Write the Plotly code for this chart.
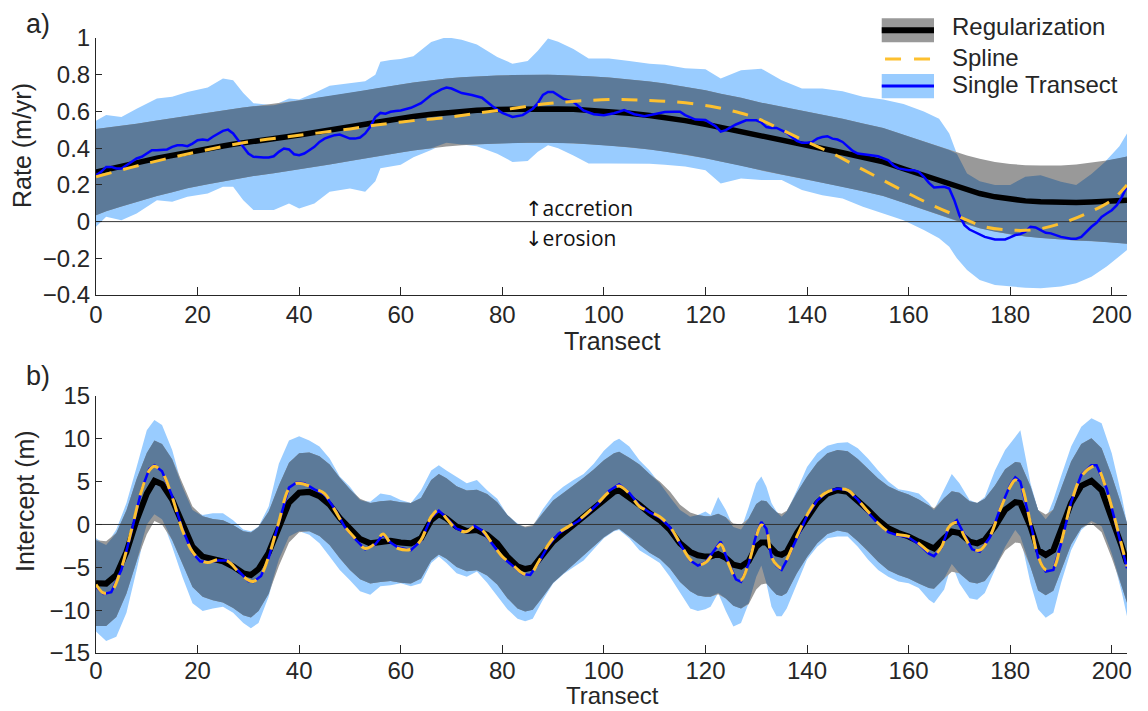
import numpy as np
import plotly.graph_objects as go

# ---------------- Panel a) : Rate ----------------
xt = [0, 2, 5, 8, 12, 15, 18, 22, 25, 27,
      29, 31, 35, 38, 40, 43, 46, 50, 53, 55,
      56, 58, 60, 62.5, 66, 69, 72, 75, 79, 82,
      85, 87, 89, 91, 94, 97, 101, 105, 109, 112,
      116, 120, 123, 127, 131, 135, 139, 143, 147, 151,
      155, 159, 163, 166, 168, 169.5, 171.5, 174, 177, 180,
      183, 186, 190, 193, 196, 199, 201.5, 203]
single_upper_top = [0.55, 0.58, 0.57, 0.615, 0.67, 0.68, 0.706, 0.73, 0.78, 0.77,
                    0.70, 0.645, 0.634, 0.67, 0.665, 0.70, 0.74, 0.755, 0.765, 0.80,
                    0.87, 0.88, 0.885, 0.9, 0.978, 1.005, 0.99, 0.965, 0.897, 0.86,
                    0.875, 0.93, 0.997, 0.98, 0.94, 0.888, 0.888, 0.875, 0.86, 0.855,
                    0.835, 0.83, 0.779, 0.824, 0.833, 0.77, 0.725, 0.725, 0.71, 0.68,
                    0.665, 0.64, 0.6, 0.56, 0.48, 0.37, 0.262, 0.22, 0.2, 0.2,
                    0.244, 0.253, 0.217, 0.2, 0.26, 0.335, 0.41, 0.48]
single_lower_top = [-0.028, 0.026, 0.008, 0.044, 0.117, 0.108, 0.135, 0.153, 0.19, 0.19,
                    0.117, 0.063, 0.063, 0.099, 0.072, 0.099, 0.162, 0.18, 0.162, 0.22,
                    0.29, 0.30, 0.31, 0.35, 0.39, 0.43, 0.42, 0.41, 0.37, 0.325,
                    0.33, 0.38, 0.416, 0.40, 0.36, 0.317, 0.317, 0.317, 0.315, 0.31,
                    0.30, 0.28, 0.208, 0.235, 0.226, 0.226, 0.172, 0.144, 0.126, 0.081,
                    0.044, 0.008, -0.046, -0.091, -0.137, -0.2, -0.264, -0.318, -0.345, -0.354,
                    -0.36, -0.363, -0.354, -0.336, -0.3, -0.245, -0.19, -0.155]
reg_top = [0.27, 0.284, 0.302, 0.32, 0.345, 0.362, 0.38, 0.398, 0.412, 0.421,
           0.43, 0.438, 0.453, 0.464, 0.472, 0.484, 0.497, 0.515, 0.53, 0.54,
           0.545, 0.553, 0.562, 0.572, 0.585, 0.594, 0.601, 0.606, 0.611, 0.613,
           0.615, 0.615, 0.615, 0.614, 0.612, 0.607, 0.6, 0.59, 0.578, 0.567,
           0.55, 0.53, 0.512, 0.49, 0.463, 0.442, 0.42, 0.398, 0.375, 0.35,
           0.325, 0.288, 0.25, 0.222, 0.203, 0.19, 0.172, 0.153, 0.135, 0.122,
           0.113, 0.108, 0.104, 0.104, 0.107, 0.111, 0.114, 0.117]
reg_ci_top = [0.235, 0.228, 0.22, 0.213, 0.206, 0.202, 0.198, 0.195, 0.193, 0.192,
              0.191, 0.19, 0.189, 0.188, 0.187, 0.187, 0.186, 0.185, 0.185, 0.185,
              0.185, 0.185, 0.185, 0.185, 0.185, 0.185, 0.185, 0.185, 0.185, 0.185,
              0.185, 0.185, 0.185, 0.185, 0.185, 0.185, 0.185, 0.185, 0.185, 0.185,
              0.185, 0.185, 0.185, 0.185, 0.185, 0.185, 0.185, 0.185, 0.185, 0.185,
              0.185, 0.185, 0.186, 0.186, 0.187, 0.187, 0.188, 0.189, 0.19, 0.192,
              0.194, 0.197, 0.202, 0.207, 0.213, 0.222, 0.23, 0.237]

spline_x_top = [0, 10, 20, 30, 40, 50, 56, 62.5, 69, 75, 82, 89, 95, 102, 108, 114, 121,
                126, 130, 135, 140, 145, 150, 155, 160, 165, 170, 175, 180, 185, 190, 195,
                200, 203]
spline_top = [0.244, 0.317, 0.38, 0.434, 0.47, 0.505, 0.529, 0.55, 0.567, 0.59, 0.616,
              0.643, 0.657, 0.665, 0.661, 0.652, 0.628, 0.598, 0.565, 0.5, 0.434, 0.371,
              0.298, 0.225, 0.153, 0.085, 0.026, -0.028, -0.046, -0.043, -0.01, 0.044,
              0.117, 0.199]

single_x_top = [0, 1, 2, 3, 4, 5, 6, 7, 8, 9,
                10, 11, 12, 13, 14, 15, 16, 17, 18, 19,
                20, 21, 22, 23, 24, 25, 26, 27, 28, 29,
                30, 31, 32, 33, 34, 35, 36, 37, 38, 39,
                40, 41, 42, 43, 44, 45, 46, 47, 48, 49,
                50, 51, 52, 53, 54, 55, 56, 57, 58, 59,
                60, 62, 64, 66, 68, 69, 70, 72, 74, 76,
                78, 80, 82, 84, 86, 87, 88, 89, 90, 92,
                94, 96, 98, 100, 102, 104, 106, 108, 110, 112,
                114, 115, 116, 118, 120, 122, 123, 124, 126, 128,
                130, 131, 132, 133, 134, 135, 136, 137, 138, 139,
                140, 141, 142, 143, 144, 145, 146, 147, 148, 149,
                150, 152, 154, 156, 157, 158, 160, 161, 162, 163,
                164, 165, 166, 167, 168, 169, 170, 171, 172, 173,
                175, 177, 179, 180, 181, 182, 183, 184, 185, 186,
                187, 188, 190, 192, 193, 194, 195, 196, 197, 198,
                199, 200, 201, 202, 203]
single_top = [0.253, 0.271, 0.298, 0.298, 0.289, 0.289, 0.307, 0.326, 0.344, 0.353,
              0.371, 0.389, 0.389, 0.393, 0.393, 0.407, 0.416, 0.416, 0.411, 0.425,
              0.443, 0.447, 0.443, 0.462, 0.48, 0.494, 0.501, 0.48, 0.443, 0.407,
              0.371, 0.353, 0.349, 0.349, 0.349, 0.356, 0.38, 0.398, 0.393, 0.367,
              0.362, 0.371, 0.389, 0.407, 0.434, 0.452, 0.462, 0.471, 0.474, 0.465,
              0.452, 0.452, 0.458, 0.48, 0.516, 0.57, 0.592, 0.588, 0.598, 0.603,
              0.605, 0.62, 0.645, 0.69, 0.72, 0.73, 0.725, 0.70, 0.69, 0.675,
              0.63, 0.592, 0.57, 0.58, 0.615, 0.645, 0.69, 0.706, 0.706, 0.67,
              0.652, 0.605, 0.585, 0.58, 0.59, 0.607, 0.585, 0.574, 0.585, 0.597,
              0.598, 0.598, 0.58, 0.556, 0.553, 0.52, 0.49, 0.498, 0.529, 0.552,
              0.552, 0.54, 0.515, 0.51, 0.51, 0.498, 0.484, 0.461, 0.44, 0.429,
              0.429, 0.434, 0.452, 0.461, 0.465, 0.452, 0.447, 0.434, 0.407, 0.385,
              0.371, 0.362, 0.356, 0.334, 0.307, 0.29, 0.28, 0.28, 0.271, 0.244,
              0.211, 0.186, 0.186, 0.19, 0.18, 0.117, 0.035, -0.019, -0.043, -0.055,
              -0.083, -0.097, -0.097, -0.086, -0.073, -0.068, -0.055, -0.028, -0.032, -0.046,
              -0.061, -0.064, -0.083, -0.093, -0.093, -0.083, -0.055, -0.028, -0.006, 0.026,
              0.044, 0.062, 0.09, 0.135, 0.193]

# ---------------- Panel b) : Intercept ----------------
xb = [0, 2, 4, 6, 8, 10, 11.5, 13, 15, 17,
      19, 21, 23, 25, 27, 29, 30.5, 32, 34, 36,
      38, 40, 42, 44, 46, 48, 50, 52, 54, 56,
      58, 60, 62, 64, 66, 67.5, 69, 71, 73, 75,
      77, 79, 81, 83, 84.5, 86, 88, 90, 92, 94,
      96, 98, 100, 102, 103, 105, 107, 109, 111, 113,
      115, 117, 118.5, 120, 121, 122.5, 124, 125.5, 127, 128.5,
      130, 131, 132, 133, 134, 135, 136, 138, 140, 142,
      144, 146, 148, 150, 152, 154, 156, 158, 160, 162,
      164, 165, 167, 168.5, 170, 172, 173.5, 175, 177, 179,
      181, 182, 184, 185.5, 187, 188.5, 190, 192, 194, 196,
      198, 200, 202, 203]
reg_bot = [-6.85, -6.9, -5.9, -3.2, 0.5, 3.6, 5.1, 4.7, 2.9, 0.1,
           -2.6, -3.75, -4.1, -4.3, -4.9, -5.7, -5.9, -5.2, -3.3, -0.15,
           2.55, 3.7, 3.8, 3.3, 2.3, 0.75, -0.6, -1.7, -2.2, -2.0,
           -1.9, -2.1, -2.2, -1.6, 0.5, 1.2, 0.7, -0.25, -0.75, -0.64,
           -1.2, -2.2, -3.75, -4.9, -5.2, -5.0, -3.55, -2.0, -1.03, -0.06,
           0.9, 1.9, 3.0, 3.8, 4.0, 3.2, 2.3, 1.3, 0.5, -0.64,
           -2.2, -3.2, -3.6, -3.75, -3.75, -3.45, -3.9, -4.7, -4.9, -4.3,
           -2.6, -2.1, -2.1, -2.8, -3.4, -3.55, -3.2, -1.0, 0.9, 2.5,
           3.6, 4.0, 3.8, 2.85, 1.7, 0.5, -0.45, -1.0, -1.4, -2.0,
           -2.6, -2.8, -1.6, -0.83, -1.0, -2.0, -2.2, -1.8, -0.25, 1.7,
           2.6, 2.5, -0.25, -3.0, -3.55, -3.0, -0.64, 2.5, 4.5, 5.1,
           4.0, 0.9, -2.6, -4.5]
reg_ci_bot = [5.0, 4.95, 4.9, 4.85, 4.8, 4.75, 4.7, 4.7, 4.7, 4.7,
              4.7, 4.7, 4.75, 4.8, 4.85, 4.9, 4.95, 4.9, 4.8, 4.7,
              4.65, 4.6, 4.6, 4.65, 4.7, 4.7, 4.7, 4.7, 4.7, 4.7,
              4.7, 4.7, 4.7, 4.7, 4.7, 4.7, 4.7, 4.7, 4.7, 4.7,
              4.75, 4.8, 4.85, 4.9, 4.95, 4.95, 4.9, 4.8, 4.7, 4.6,
              4.55, 4.5, 4.5, 4.5, 4.5, 4.6, 4.7, 4.6, 4.5, 4.5,
              4.5, 4.6, 4.7, 4.7, 4.7, 4.7, 4.75, 4.8, 4.9, 5.0,
              5.0, 4.9, 4.8, 4.8, 4.8, 4.8, 4.8, 4.7, 4.7, 4.7,
              4.7, 4.7, 4.75, 4.8, 4.8, 4.85, 4.9, 4.9, 4.9, 4.9,
              4.8, 4.7, 4.7, 4.7, 4.7, 4.7, 4.7, 4.8, 4.8, 4.75,
              4.7, 4.7, 4.7, 4.7, 4.7, 4.75, 4.8, 4.85, 4.9, 4.95,
              4.9, 4.8, 4.7, 4.65]
single_upper_bot = [-1.6, -2.4, -0.6, 2.5, 6.7, 11.0, 12.2, 11.6, 8.7, 4.4,
                    1.7, 1.1, 1.3, 1.3, 0.5, -0.6, -0.8, -0.25, 2.1, 7.1,
                    9.8, 10.3, 9.8, 9.1, 7.7, 5.6, 4.4, 2.85, 2.65, 3.6,
                    3.4, 2.85, 2.5, 4.0, 6.3, 6.9, 6.3, 5.6, 4.8, 5.2,
                    4.0, 3.0, 1.1, 0.1, -0.35, -0.2, 1.8, 3.4, 4.4, 5.2,
                    5.9, 7.1, 8.6, 9.7, 10.0, 9.1, 7.5, 6.3, 4.8, 3.2,
                    1.7, 0.9, 1.1, 1.5, 1.1, 3.2, 1.7, -0.3, -0.6, 2.0,
                    4.8, 5.6, 4.4, 2.5, 1.5, 0.9, 1.5, 4.0, 6.7, 8.3,
                    9.2, 9.5, 9.6, 8.9, 7.7, 6.3, 5.0, 4.1, 3.9, 3.6,
                    2.5, 1.7, 4.0, 5.9, 4.8, 2.85, 2.5, 3.2, 6.3, 8.7,
                    10.2, 11.0, 4.8, 1.7, 0.6, 2.85, 5.6, 9.1, 11.4, 12.4,
                    11.8, 8.3, 3.2, 0.14]
single_lower_bot = [-12.5, -13.6, -13.1, -10.3, -5.3, 0.0, 1.2, 0.6, -2.6, -6.1,
                    -9.2, -10.1, -9.8, -9.6, -10.3, -11.5, -12.1, -11.5, -8.4, -4.1,
                    -1.4, -0.8, -1.2, -2.2, -3.75, -5.3, -6.5, -7.8, -8.2, -7.2,
                    -7.1, -6.85, -7.2, -6.85, -4.5, -3.75, -4.5, -5.7, -6.1, -5.5,
                    -6.8, -8.4, -9.9, -11.0, -11.3, -11.0, -8.8, -6.9, -5.8, -5.0,
                    -4.2, -2.9, -1.6, -0.8, -0.64, -1.6, -3.0, -3.75, -4.5, -6.1,
                    -8.0, -9.8, -10.1, -9.9, -9.6, -8.0, -10.1, -11.9, -11.5, -9.2,
                    -6.1, -4.8, -6.85, -9.6, -10.7, -10.7, -9.8, -6.85, -4.1, -2.6,
                    -1.6, -1.4, -1.4, -2.6, -4.1, -5.3, -6.1, -6.65, -6.85, -7.4,
                    -8.8, -9.2, -7.6, -4.6, -6.85, -8.6, -8.8, -8.0, -5.3, -2.6,
                    -0.64, -1.4, -6.85, -9.9, -10.9, -10.3, -6.85, -3.0, -0.64, 0.4,
                    -0.2, -3.4, -8.0, -10.7]

line_x_bot = [0, 1.5, 3, 5, 7, 9, 10.5, 11.5, 13, 15,
              17, 19, 20.5, 22, 24, 26, 28, 30, 31, 32.5,
              34, 36, 38, 39.5, 41, 43, 45, 47, 49, 51,
              53, 55, 56.5, 58, 59.5, 62, 64, 66, 67.5, 69,
              71, 73, 74.5, 76, 78, 80, 82, 84, 85.5, 87,
              89, 91, 93, 95, 97, 99, 101, 103, 105, 107,
              109, 111, 113, 115, 117, 118.5, 120, 122, 123, 124.5,
              126, 127, 128.5, 130, 131, 132, 133, 134, 135, 136,
              138, 140, 142, 144, 146, 148, 150, 152, 154, 156,
              158, 160, 162, 164, 165, 166.5, 168, 169.5, 171, 172.5,
              174, 176, 178, 180, 181, 182, 184, 185.5, 187, 188.5,
              190, 192, 194, 196, 197, 199, 201, 203]
spline_bot = [-7.0, -8.0, -7.8, -5.1, -0.6, 4.0, 6.3, 6.8, 6.1, 3.2,
              -0.64, -3.2, -4.1, -4.45, -4.1, -4.3, -5.5, -6.5, -6.65, -5.9,
              -3.75, 0.3, 4.2, 4.8, 4.7, 4.2, 3.6, 1.7, -0.25, -1.6,
              -2.8, -2.2, -1.1, -2.2, -2.8, -2.9, -1.8, 0.9, 1.7, 0.7,
              -0.56, -0.83, -0.25, -0.64, -2.2, -3.75, -4.7, -5.7, -5.8, -4.5,
              -2.4, -1.0, -0.25, 0.5, 1.5, 2.6, 3.8, 4.5, 3.6, 2.1,
              1.5, 0.9, -0.25, -2.2, -4.1, -4.7, -4.45, -3.0, -2.3, -4.5,
              -6.3, -6.5, -4.5, -1.4, -0.06, -0.64, -3.75, -4.7, -5.1, -4.1,
              -1.4, 1.1, 2.85, 3.8, 4.1, 4.0, 2.85, 1.5, 0.14, -0.83,
              -1.2, -1.4, -2.2, -3.2, -3.55, -2.6, -0.25, 0.2, -1.4, -2.8,
              -3.0, -1.4, 1.7, 4.4, 5.2, 4.8, 0.14, -3.75, -5.3, -5.1,
              -2.2, 2.5, 5.6, 6.7, 6.75, 4.0, -0.25, -4.9]
single_bot = [-7.3, -8.1, -7.9, -5.3, -0.8, 4.1, 6.5, 6.9, 6.2, 3.3,
              -0.5, -3.3, -4.3, -4.4, -4.2, -4.2, -5.4, -6.6, -6.7, -6.0,
              -3.9, 0.2, 4.3, 4.9, 4.8, 4.1, 3.5, 1.8, -0.3, -1.7,
              -2.9, -2.3, -1.2, -2.1, -2.7, -3.0, -1.9, 0.8, 1.6, 0.8,
              -0.5, -0.9, -0.15, -0.7, -2.3, -3.8, -4.8, -5.8, -5.9, -4.6,
              -2.5, -1.1, -0.3, 0.4, 1.4, 2.5, 3.9, 4.7, 3.7, 2.2,
              1.4, 0.8, -0.3, -2.3, -4.2, -4.8, -4.4, -2.8, -2.0, -4.4,
              -6.4, -6.7, -4.6, -1.2, 0.3, -0.5, -3.8, -4.8, -5.3, -4.2,
              -1.5, 1.0, 2.8, 3.8, 4.2, 4.0, 2.9, 1.4, 0.1, -0.9,
              -1.3, -1.5, -2.3, -3.4, -3.7, -2.7, -0.2, 0.5, -1.2, -2.9,
              -3.2, -1.5, 1.8, 4.6, 5.5, 5.0, 0.2, -3.9, -5.5, -5.3,
              -2.3, 2.6, 5.8, 6.9, 6.9, 4.2, -0.4, -5.1]

x_ticks = [0, 20, 40, 60, 80, 100, 120, 140, 160, 180, 200]

# ---------------- styles ----------------
C_LIGHT = "#99ccff"
C_GRAY = "#999999"
C_OVER = "#5c7a99"
C_BLACK = "#000000"
C_BLUE = "#0000ff"
C_YEL = "#fdc02f"
TXT = "#262626"
FONT = "Liberation Sans, Arial, Helvetica, sans-serif"

fig = go.Figure()


def band(x, lo, hi, color, xa, ya):
    fig.add_trace(go.Scatter(x=x, y=lo, mode="lines", line=dict(width=0, color="rgba(0,0,0,0)"),
                             showlegend=False, hoverinfo="skip", xaxis=xa, yaxis=ya))
    fig.add_trace(go.Scatter(x=x, y=hi, mode="lines", line=dict(width=0, color="rgba(0,0,0,0)"),
                             fill="tonexty", fillcolor=color, showlegend=False,
                             hoverinfo="skip", xaxis=xa, yaxis=ya))


def panel(x_band, s_lo, s_hi, reg, ci, sx, spl, lx, single, xa, ya, bw, dash):
    x_band = np.array(x_band, dtype=float)
    s_lo = np.array(s_lo); s_hi = np.array(s_hi)
    reg = np.array(reg); ci = np.array(ci)
    g_lo = reg - ci
    g_hi = reg + ci
    o_lo = np.maximum(s_lo, g_lo)
    o_hi = np.minimum(s_hi, g_hi)
    o_hi = np.maximum(o_hi, o_lo)
    band(x_band, s_lo, s_hi, C_LIGHT, xa, ya)
    band(x_band, g_lo, g_hi, C_GRAY, xa, ya)
    band(x_band, o_lo, o_hi, C_OVER, xa, ya)
    # zero reference line
    fig.add_trace(go.Scatter(x=[x_band[0], x_band[-1]], y=[0, 0], mode="lines",
                             line=dict(color="#333333", width=1), showlegend=False,
                             hoverinfo="skip", xaxis=xa, yaxis=ya))
    fig.add_trace(go.Scatter(x=x_band, y=reg, mode="lines", line=dict(color=C_BLACK, width=bw),
                             showlegend=False, hoverinfo="skip", xaxis=xa, yaxis=ya))
    fig.add_trace(go.Scatter(x=lx, y=single, mode="lines", line=dict(color=C_BLUE, width=2.5),
                             showlegend=False, hoverinfo="skip", xaxis=xa, yaxis=ya))
    fig.add_trace(go.Scatter(x=sx, y=spl, mode="lines",
                             line=dict(color=C_YEL, width=3, dash=dash, shape="spline"),
                             showlegend=False, hoverinfo="skip", xaxis=xa, yaxis=ya))


panel(xt, single_lower_top, single_upper_top, reg_top, reg_ci_top,
      spline_x_top, spline_top, single_x_top, single_top, "x", "y", 5.5, "16px,12px")
panel(xb, single_lower_bot, single_upper_bot, reg_bot, reg_ci_bot,
      line_x_bot, spline_bot, line_x_bot, single_bot, "x2", "y2", 6, "14px,10px")

axis_common = dict(showline=True, linecolor=TXT, linewidth=1, ticks="inside", tickcolor=TXT,
                   tickwidth=1, showgrid=False, zeroline=False, mirror=False,
                   tickfont=dict(family=FONT, size=24, color=TXT))

fig.update_layout(
    width=1148, height=711,
    margin=dict(l=96, r=21, t=38, b=58),
    paper_bgcolor="white", plot_bgcolor="white",
    showlegend=False,
    xaxis=dict(domain=[0, 1], anchor="y", range=[0, 203], tickmode="array",
               tickvals=x_ticks, ticklen=8, ticklabelstandoff=-2, **axis_common),
    yaxis=dict(domain=[0.582, 1], anchor="x", range=[-0.4, 1], tick0=0, dtick=0.2,
               ticklen=6, **axis_common),
    xaxis2=dict(domain=[0, 1], anchor="y2", range=[0, 203], tickmode="array",
                tickvals=x_ticks, ticklen=8, ticklabelstandoff=-4, **axis_common),
    yaxis2=dict(domain=[0, 0.418], anchor="x2", range=[-15, 15], tick0=0, dtick=5,
                ticklen=6, **axis_common),
)

ann = []
tf = dict(family=FONT, size=25, color=TXT)
ann.append(dict(text="Rate (m/yr)", x=-0.0718, y=0.826, xref="paper", yref="paper",
                textangle=-90, showarrow=False, font=tf, xanchor="center", yanchor="middle"))
ann.append(dict(text="Intercept (m)", x=-0.0689, y=0.247, xref="paper", yref="paper",
                textangle=-90, showarrow=False, font=tf, xanchor="center", yanchor="middle"))
ann.append(dict(text="Transect", x=0.5005, y=0.5073, xref="paper", yref="paper",
                showarrow=False, font=tf, xanchor="center", yanchor="middle"))
ann.append(dict(text="Transect", x=0.5005, y=-0.0693, xref="paper", yref="paper",
                showarrow=False, font=dict(family=FONT, size=24, color=TXT),
                xanchor="center", yanchor="middle", borderpad=0))
ann.append(dict(text="a)", x=-0.0563, y=1.0228, xref="paper", yref="paper",
                showarrow=False, font=dict(family=FONT, size=27, color=TXT),
                xanchor="center", yanchor="middle"))
ann.append(dict(text="b)", x=-0.0563, y=0.4504, xref="paper", yref="paper",
                showarrow=False, font=dict(family=FONT, size=27, color=TXT),
                xanchor="center", yanchor="middle"))
af = dict(family="Open Sans, DejaVu Sans, sans-serif", size=21, color="#111111")
ann.append(dict(text="\u2191accretion", x=0.414, y=0.7236, xref="paper", yref="paper",
                showarrow=False, font=af, xanchor="left", yanchor="middle"))
ann.append(dict(text="\u2193erosion", x=0.414, y=0.675, xref="paper", yref="paper",
                showarrow=False, font=af, xanchor="left", yanchor="middle"))

# legend (drawn manually)
lf = dict(family=FONT, size=24, color=TXT)
ann.append(dict(text="Regularization", x=0.8283, y=1.0179, xref="paper", yref="paper",
                showarrow=False, font=lf, xanchor="left", yanchor="middle"))
ann.append(dict(text="Spline", x=0.8283, y=0.969, xref="paper", yref="paper",
                showarrow=False, font=lf, xanchor="left", yanchor="middle"))
ann.append(dict(text="Single Transect", x=0.8283, y=0.9236, xref="paper", yref="paper",
                showarrow=False, font=lf, xanchor="left", yanchor="middle"))

shapes = [
    dict(type="rect", xref="paper", yref="paper", x0=0.7621, x1=0.8128, y0=0.993, y1=1.032,
         fillcolor=C_GRAY, line=dict(width=0)),
    dict(type="line", xref="paper", yref="paper", x0=0.7621, x1=0.8128, y0=1.0125, y1=1.0125,
         line=dict(color=C_BLACK, width=6)),
    dict(type="line", xref="paper", yref="paper", x0=0.7653, x1=0.8128, y0=0.9659, y1=0.9659,
         line=dict(color=C_YEL, width=3, dash="16px,13px")),
    dict(type="rect", xref="paper", yref="paper", x0=0.7621, x1=0.8128, y0=0.902, y1=0.9415,
         fillcolor=C_LIGHT, line=dict(width=0)),
    dict(type="line", xref="paper", yref="paper", x0=0.7621, x1=0.8128, y0=0.922, y1=0.922,
         line=dict(color=C_BLUE, width=3)),
]

fig.update_layout(annotations=ann, shapes=shapes)
fig.write_html("out.html")
